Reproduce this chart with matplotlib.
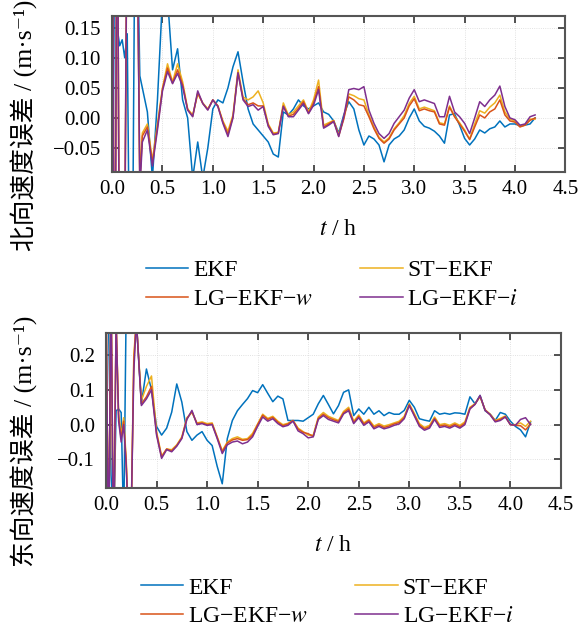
import numpy as np
import matplotlib
matplotlib.use("Agg")
import matplotlib.pyplot as plt

plt.rcParams["font.family"] = ["Liberation Serif", "Noto Sans CJK SC", "DejaVu Serif"]
plt.rcParams["mathtext.fontset"] = "stix"
plt.rcParams["axes.unicode_minus"] = True

# ---------------- data ----------------
t_early = [0.0, 0.025, 0.05, 0.075, 0.10, 0.125, 0.15, 0.175, 0.20, 0.225, 0.25, 0.275]
t_main = [0.30, 0.35, 0.40, 0.45, 0.50, 0.55, 0.60, 0.65, 0.70, 0.75,
          0.80, 0.85, 0.90, 0.95, 1.00, 1.05, 1.10, 1.15, 1.20, 1.25,
          1.30, 1.35, 1.40, 1.45, 1.50, 1.55, 1.60, 1.65, 1.70, 1.75,
          1.80, 1.85, 1.90, 1.95, 2.00, 2.05, 2.10, 2.15, 2.20, 2.25,
          2.30, 2.35, 2.40, 2.45, 2.50, 2.55, 2.60, 2.65, 2.70, 2.75,
          2.80, 2.85, 2.90, 2.95, 3.00, 3.05, 3.10, 3.15, 3.20, 3.25,
          3.30, 3.35, 3.40, 3.45, 3.50, 3.55, 3.60, 3.65, 3.70, 3.75,
          3.80, 3.85, 3.90, 3.95, 4.00, 4.05, 4.10, 4.15, 4.20]
t_h = t_early + t_main

labels = ["EKF", "ST\u2212EKF", "LG\u2212EKF\u2212$w$", "LG\u2212EKF\u2212$i$"]
colors = ["#0072BD", "#EDB120", "#D95319", "#7E2F8E"]

# north velocity error (m/s)
north_ekf = [-0.3, 0.3, 0.15, 0.12, 0.13, 0.10, 0.14, -0.3, -0.3, 0.3, 0.3, 0.07,
             0.05, 0.01, -0.10, 0.03, 0.2, 0.2, 0.08, 0.115, 0.03, 0.0,
             -0.1, -0.04, -0.1, -0.05, 0.015, 0.03, 0.025, 0.05, 0.085, 0.11,
             0.06, 0.015, -0.01, -0.02, -0.03, -0.04, -0.06, -0.065, 0.01, 0.005,
             0.015, 0.03, 0.02, 0.015, 0.02, 0.025, 0.01, 0.006, -0.005, -0.025,
             0.005, 0.027, 0.015, -0.02, -0.045, -0.03, -0.035, -0.045, -0.073, -0.045,
             -0.035, -0.03, -0.02, 0.0, 0.015, -0.005, -0.014, -0.017, -0.022, -0.03,
             -0.042, 0.005, 0.007, -0.012, -0.034, -0.045, -0.035, -0.02, -0.025, -0.018,
             -0.015, -0.005, -0.015, -0.01, -0.01, -0.013, -0.012, -0.01, 0.0]
north_st = [0.5, -0.5, 0.5, -0.4, -0.3, -0.2, 0.4, 0.3, 0.3, 0.3, 0.3, -0.1,
            -0.025, -0.01, -0.07, -0.01, 0.05, 0.09, 0.06, 0.09, 0.06, 0.015,
            0.005, 0.04, 0.025, 0.015, 0.03, 0.02, -0.005, -0.022, 0.005, 0.08,
            0.035, 0.03, 0.035, 0.045, 0.025, -0.01, -0.025, -0.024, 0.025, 0.005,
            0.01, 0.02, 0.03, 0.01, 0.03, 0.063, -0.012, -0.008, -0.004, -0.028,
            0.0, 0.04, 0.037, 0.032, 0.03, 0.005, -0.015, -0.032, -0.04, -0.033,
            -0.018, -0.008, 0.004, 0.024, 0.036, 0.015, 0.018, 0.015, 0.012, -0.008,
            -0.01, 0.02, 0.003, -0.008, -0.02, -0.035, -0.01, 0.012, 0.008, 0.018,
            0.025, 0.038, 0.01, -0.002, -0.005, -0.014, -0.012, -0.002, -0.002]
north_lgw = [0.5, -0.5, 0.5, -0.4, -0.3, -0.25, 0.4, 0.3, 0.3, 0.3, 0.3, -0.11,
             -0.03, -0.015, -0.075, -0.015, 0.048, 0.083, 0.058, 0.08, 0.055, 0.014,
             0.003, 0.042, 0.024, 0.014, 0.03, 0.02, -0.007, -0.027, 0.002, 0.075,
             0.032, 0.022, 0.025, 0.02, 0.02, -0.012, -0.027, -0.025, 0.02, 0.003,
             0.006, 0.016, 0.027, 0.008, 0.025, 0.052, -0.015, -0.01, -0.005, -0.03,
             -0.002, 0.035, 0.03, 0.022, 0.02, 0.002, -0.018, -0.034, -0.042, -0.035,
             -0.02, -0.01, 0.0, 0.02, 0.032, 0.012, 0.015, 0.012, 0.01, -0.01,
             -0.012, 0.018, 0.002, -0.01, -0.022, -0.036, -0.015, 0.005, 0.0, 0.01,
             0.015, 0.03, 0.005, -0.005, -0.007, -0.015, -0.012, -0.004, 0.0]
north_lgi = [0.5, -0.5, 0.5, -0.4, -0.3, -0.2, 0.4, 0.3, 0.3, 0.3, 0.3, -0.12,
             -0.04, -0.02, -0.08, -0.02, 0.045, 0.077, 0.057, 0.074, 0.052, 0.013,
             0.002, 0.045, 0.024, 0.013, 0.03, 0.019, -0.009, -0.031, 0.0, 0.075,
             0.03, 0.019, 0.022, 0.013, 0.019, -0.014, -0.028, -0.026, 0.019, 0.002,
             0.002, 0.013, 0.024, 0.007, 0.021, 0.047, -0.017, -0.012, -0.006, -0.031,
             0.002, 0.047, 0.049, 0.047, 0.052, 0.013, -0.009, -0.026, -0.034, -0.026,
             -0.009, 0.002, 0.013, 0.033, 0.047, 0.027, 0.03, 0.027, 0.024, 0.002,
             0.002, 0.036, 0.01, 0.002, -0.009, -0.026, 0.0, 0.027, 0.019, 0.03,
             0.038, 0.053, 0.019, 0.0, -0.003, -0.012, -0.01, 0.002, 0.005]

# east velocity error (m/s)
east_ekf = [0.3, 0.3, -0.145, -0.3, 0.04, 0.045, 0.035, -0.3, 0.35, 0.35, 0.35, 0.35,
            0.30, 0.06, 0.16, 0.10, -0.005, -0.03, -0.01, 0.036, 0.117, 0.065,
            -0.02, -0.045, -0.03, -0.02, -0.045, -0.06, -0.12, -0.17, -0.04, 0.012,
            0.04, 0.058, 0.075, 0.098, 0.092, 0.115, 0.09, 0.066, 0.082, 0.074,
            0.012, 0.012, 0.012, 0.01, 0.02, 0.03, 0.06, 0.084, 0.058, 0.031,
            0.055, 0.093, 0.1, 0.026, 0.045, 0.03, 0.05, 0.03, 0.04, 0.026,
            0.035, 0.03, 0.03, 0.041, 0.07, 0.05, 0.017, 0.013, 0.01, 0.04,
            0.03, 0.033, 0.03, 0.034, 0.033, 0.03, 0.08, 0.06, 0.084, 0.04,
            0.03, 0.012, 0.035, 0.03, 0.01, -0.005, -0.015, -0.035, 0.008]
east_st = [0.4, -0.4, 0.4, -0.4, 0.3, 0.03, -0.03, 0.02, -0.1, -0.3, -0.25, 0.2,
           0.30, 0.07, 0.11, 0.14, -0.02, -0.09, -0.07, -0.072, -0.058, -0.035,
           0.02, 0.035, 0.005, 0.008, 0.003, 0.005, -0.035, -0.075, -0.05, -0.04,
           -0.035, -0.042, -0.04, -0.025, 0.002, 0.03, 0.018, 0.024, 0.01, 0.0,
           0.004, 0.012, -0.01, -0.02, -0.03, -0.03, 0.022, 0.035, 0.024, 0.018,
           0.012, 0.038, 0.05, 0.01, 0.028, 0.005, 0.015, -0.004, 0.003, -0.004,
           0.0, 0.005, 0.01, 0.024, 0.06, 0.032, 0.003, -0.008, -0.002, 0.022,
           0.0, 0.003, -0.002, 0.005, -0.002, 0.008, 0.05, 0.06, 0.08, 0.043,
           0.03, 0.012, 0.018, 0.025, 0.0, 0.0, 0.005, -0.005, 0.01]
east_lgw = [0.4, -0.4, 0.4, -0.4, 0.3, 0.02, -0.04, 0.01, -0.11, -0.3, -0.25, 0.18,
            0.30, 0.06, 0.08, 0.11, -0.025, -0.093, -0.07, -0.075, -0.06, -0.038,
            0.017, 0.038, 0.003, 0.005, 0.0, 0.002, -0.037, -0.078, -0.053, -0.044,
            -0.04, -0.045, -0.043, -0.03, 0.0, 0.027, 0.015, 0.021, 0.007, -0.003,
            0.002, 0.012, -0.013, -0.022, -0.026, -0.034, 0.018, 0.03, 0.02, 0.014,
            0.009, 0.034, 0.045, 0.006, 0.024, 0.002, 0.012, -0.008, -0.001, -0.008,
            -0.004, 0.002, 0.006, 0.02, 0.057, 0.028, -0.001, -0.012, -0.006, 0.018,
            -0.004, -0.001, -0.006, 0.001, -0.006, 0.004, 0.047, 0.059, 0.082, 0.042,
            0.029, 0.01, 0.015, 0.023, 0.0, -0.002, -0.003, -0.015, 0.002]
east_lgi = [0.4, -0.4, 0.4, -0.4, 0.3, 0.01, -0.05, 0.0, -0.12, -0.3, -0.25, 0.15,
            0.30, 0.055, 0.074, 0.10, -0.03, -0.097, -0.072, -0.078, -0.062, -0.04,
            0.015, 0.041, 0.0, 0.003, -0.002, 0.0, -0.04, -0.083, -0.058, -0.05,
            -0.047, -0.055, -0.05, -0.035, -0.005, 0.022, 0.01, 0.017, 0.003, -0.006,
            -0.002, 0.01, -0.018, -0.026, -0.038, -0.035, 0.015, 0.026, 0.015, 0.01,
            0.005, 0.031, 0.04, 0.003, 0.02, -0.002, 0.008, -0.012, -0.005, -0.012,
            -0.008, -0.002, 0.002, 0.017, 0.055, 0.025, -0.005, -0.016, -0.01, 0.015,
            -0.008, -0.005, -0.01, -0.003, -0.01, 0.0, 0.045, 0.058, 0.084, 0.041,
            0.028, 0.008, 0.012, 0.022, 0.0, -0.002, 0.015, 0.02, 0.0]

north = [north_ekf, north_st, north_lgw, north_lgi]
east = [east_ekf, east_st, east_lgw, east_lgi]

x_ticks = [0.0, 0.5, 1.0, 1.5, 2.0, 2.5, 3.0, 3.5, 4.0, 4.5]
north_yticks = [-0.05, 0.0, 0.05, 0.10, 0.15]
east_yticks = [-0.1, 0.0, 0.1, 0.2]


def draw_panel(ax, series, yticks, ylim, yfmt, ylabel, label_x):
    lines = []
    for vals, c, lab in zip(series, colors, labels):
        ln, = ax.plot(t_h, vals, color=c, lw=1.1, label=lab)
        lines.append(ln)
    ax.set_xlim(0, 4.5)
    ax.set_ylim(*ylim)
    ax.set_xticks(x_ticks)
    ax.set_xticklabels([f"{v:.1f}" for v in x_ticks])
    ax.set_yticks(yticks)
    ax.set_yticklabels([yfmt.format(v).replace("-", "\u2212") for v in yticks])
    ax.tick_params(direction="in", top=True, right=True, length=5, width=1.2,
                   color="#333333", labelsize=15)
    ax.tick_params(axis="x", pad=6)
    ax.tick_params(axis="y", pad=8)
    for s in ax.spines.values():
        s.set_color("#555555")
        s.set_linewidth(1.5)
    ax.grid(True, color="#d8d8d8", linestyle=":", lw=0.6)
    ax.set_xlabel("$t$ / h", fontsize=17, labelpad=14)
    ax.set_ylabel(ylabel, fontsize=18.5)
    ax.yaxis.set_label_coords(label_x, 0.30)
    # legend filled row by row: EKF, ST-EKF / LG-EKF-w, LG-EKF-i
    order = [0, 2, 1, 3]
    return [lines[i] for i in order], [labels[i] for i in order]


fig = plt.figure(figsize=(5.84, 6.28), dpi=100)

ax1 = fig.add_axes([0.192, 0.726, 0.776, 0.249])
h1, l1 = draw_panel(ax1, north, north_yticks, (-0.09, 0.17), "{:.2f}",
                    "北向速度误差 / (m·s\u207b\u00b9)", -0.163)
ax1.legend(h1, l1, loc="upper left", bbox_to_anchor=(0.213, 0.62),
           bbox_transform=fig.transFigure, ncol=2, frameon=False, fontsize=17,
           handlelength=1.8, handletextpad=0.2, columnspacing=2.0, labelspacing=0.3)

ax2 = fig.add_axes([0.1815, 0.223, 0.779, 0.247])
h2, l2 = draw_panel(ax2, east, east_yticks, (-0.182, 0.264), "{:.1f}",
                    "东向速度误差 / (m·s\u207b\u00b9)", -0.149)
ax2.legend(h2, l2, loc="upper left", bbox_to_anchor=(0.205, 0.115),
           bbox_transform=fig.transFigure, ncol=2, frameon=False, fontsize=17,
           handlelength=1.8, handletextpad=0.2, columnspacing=2.0, labelspacing=0.3)

fig.savefig("out.png", dpi=100)
